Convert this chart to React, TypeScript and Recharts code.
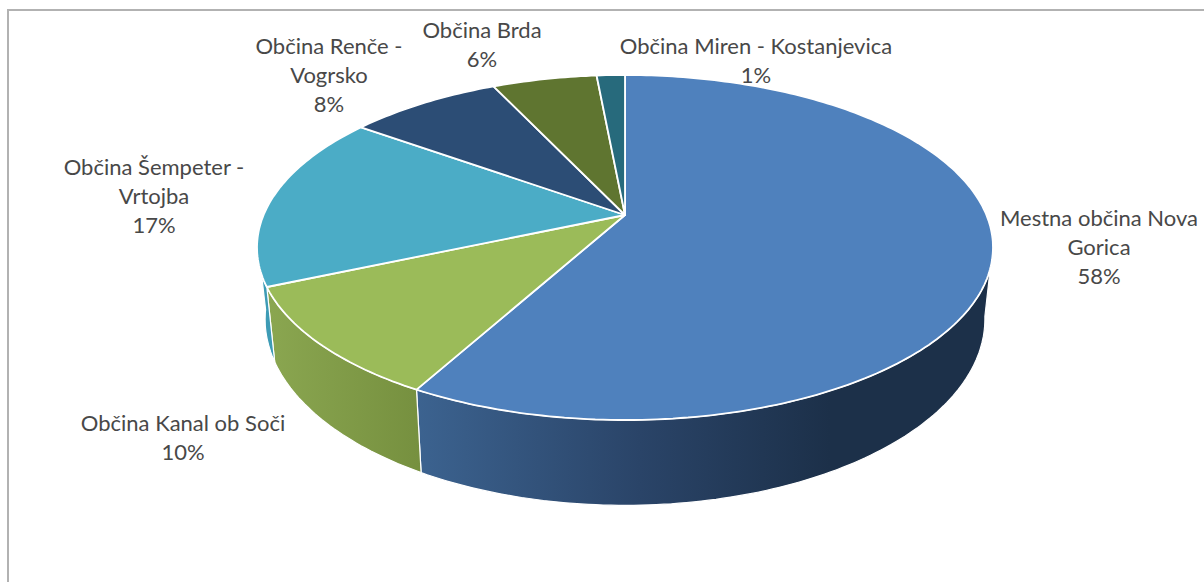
import { PieChart, Pie } from "recharts";

const categories = [
  "Mestna občina Nova\nGorica",
  "Občina Kanal ob Soči",
  "Občina Šempeter -\nVrtojba",
  "Občina Renče -\nVogrsko",
  "Občina Brda",
  "Občina Miren - Kostanjevica",
];
const shares = [58, 10.45, 16.5, 8.05, 5.51, 1.49];

const topColors = ["#4f81bd", "#9bbb59", "#4bacc6", "#2c4d75", "#5f7530", "#276a7c"];
const wallStops: [number, string][][] = [
  [[415, "#3c6390"], [640, "#2a4468"], [830, "#1c3049"]],
  [[270, "#8aa650"], [420, "#76903f"]],
  [[255, "#3d9bb5"], [275, "#3d9bb5"]],
  [[0, "#223c5b"], [1, "#223c5b"]],
  [[0, "#4a5b25"], [1, "#4a5b25"]],
  [[0, "#1e5260"], [1, "#1e5260"]],
];

// label anchor: centre x, centre y of the first line
const labelSpots = [
  [1099, 219],
  [183, 424],
  [154, 168],
  [329, 47],
  [482, 31],
  [756, 47],
];

const LINE_HEIGHT = 29;
const CX = 625;
const CY = 215;
const RADIUS = 361.4;

// the tilted disc, drawn in perspective like the office 3D pie
const TILT = 0.1884;
const SQUASH = 0.4604;
const BASE_SCALE = 0.978;
const BASE_DROP = 69;
const BASE_SQUASH = 0.497;
const WALL_FROM = 100;
const WALL_TO = 262;

function project(theta: number, a: number, b: number, drop: number) {
  const rad = (theta * Math.PI) / 180;
  const u = Math.sin(rad);
  const v = -Math.cos(rad);
  const d = 1 - TILT * v;
  return [CX + (a * u) / d, CY + drop + (b * v) / d];
}

function arc(from: number, to: number, a: number, b: number, drop: number) {
  const pts: number[][] = [];
  const steps = Math.max(2, Math.ceil(Math.abs(to - from)));
  for (let i = 0; i <= steps; i++) {
    pts.push(project(from + ((to - from) * i) / steps, a, b, drop));
  }
  return pts;
}

const toPath = (pts: number[][]) =>
  "M" + pts.map((p) => p[0].toFixed(1) + " " + p[1].toFixed(1)).join("L") + "Z";

function SliceShape(props: any) {
  const { startAngle, endAngle, outerRadius, fill, index } = props;
  const t1 = 90 - startAngle;
  const t2 = 90 - endAngle;
  const a = outerRadius;
  const b = outerRadius * SQUASH;
  const w1 = Math.max(t1, WALL_FROM);
  const w2 = Math.min(t2, WALL_TO);
  const gradId = "wall" + index;
  return (
    <g>
      {w2 > w1 && (
        <>
          <linearGradient id={gradId} gradientUnits="userSpaceOnUse" x1={wallStops[index][0][0]} x2={wallStops[index][wallStops[index].length - 1][0]} y1={0} y2={0}>
            {wallStops[index].map(([x, c], i) => {
              const stops = wallStops[index];
              const off = (x - stops[0][0]) / (stops[stops.length - 1][0] - stops[0][0]);
              return <stop key={i} offset={off} stopColor={c} />;
            })}
          </linearGradient>
          <path
            d={toPath([
              ...arc(w1, w2, a, b, 0),
              ...arc(w2, w1, a * BASE_SCALE, outerRadius * BASE_SQUASH, BASE_DROP),
            ])}
            fill={`url(#${gradId})`}
            stroke="#fff"
            strokeWidth={1.2}
            strokeLinejoin="round"
          />
        </>
      )}
      <path
        d={toPath([[CX, CY], ...arc(t1, t2, a, b, 0)])}
        fill={fill}
        stroke="#fff"
        strokeWidth={1.8}
        strokeLinejoin="round"
      />
    </g>
  );
}

function SliceLabel(props: any) {
  const { index, name, value } = props;
  const [x, y] = labelSpots[index];
  const lines = [...String(name).split("\n"), Math.round(value) + "%"];
  return (
    <text
      x={x}
      y={y + 7}
      textAnchor="middle"
      fontFamily="Lato, 'Open Sans', sans-serif"
      fontSize={22}
      fill="#484848"
    >
      {lines.map((l, i) => (
        <tspan key={i} x={x} y={y + 7 + i * LINE_HEIGHT}>
          {l}
        </tspan>
      ))}
    </text>
  );
}

const data = categories.map((name, i) => ({ name, value: shares[i], fill: topColors[i] }));

export default function App() {
  return (
    <div style={{ position: "absolute", left: 0, top: 0, width: 1204, height: 582, background: "#fff", overflow: "hidden" }}>
      <div style={{ position: "absolute", left: 7, top: 9, width: 1197, height: 2, background: "#b2b2b2" }} />
      <div style={{ position: "absolute", left: 7, top: 9, width: 2, height: 573, background: "#b2b2b2" }} />
      <div style={{ position: "absolute", left: 0, top: 0 }}>
        <PieChart width={1204} height={582} margin={{ top: 0, right: 0, bottom: 0, left: 0 }}>
          <Pie
            data={data}
            dataKey="value"
            nameKey="name"
            cx={CX}
            cy={CY}
            innerRadius={0}
            outerRadius={RADIUS}
            startAngle={90}
            endAngle={-270}
            stroke="none"
            shape={SliceShape}
            label={SliceLabel}
            labelLine={false}
            isAnimationActive={false}
          />
        </PieChart>
      </div>
    </div>
  );
}
